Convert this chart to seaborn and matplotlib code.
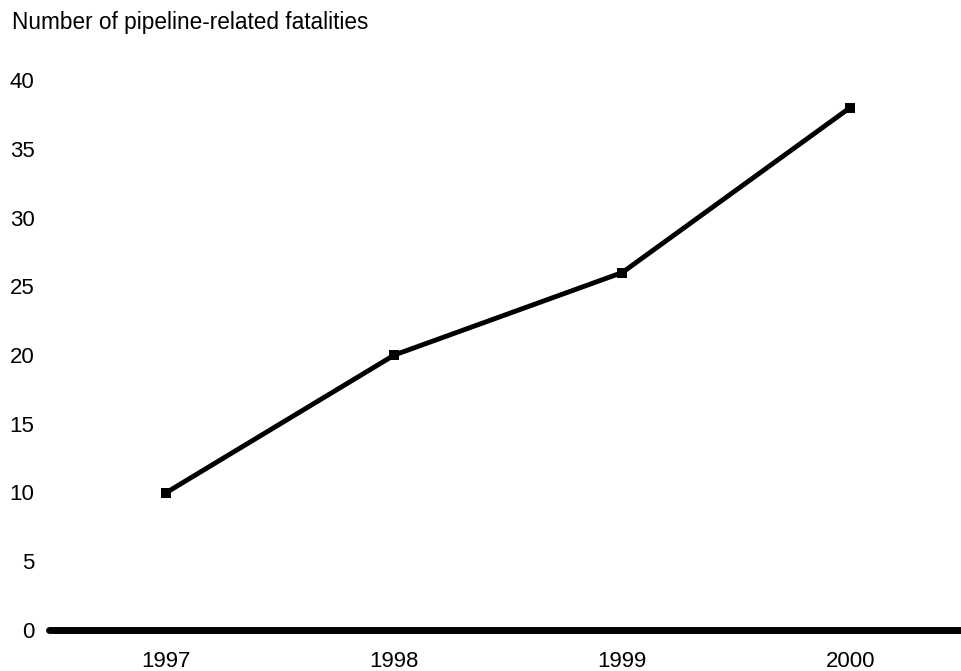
import matplotlib
matplotlib.use("Agg")
import matplotlib.pyplot as plt
import seaborn as sns
import pandas as pd

# данные
years = [1997, 1998, 1999, 2000]
fatalities = [10, 20, 26, 38]
y_ticks = [0, 5, 10, 15, 20, 25, 30, 35, 40]

df = pd.DataFrame({"year": years, "fatalities": fatalities})

sns.set_style("white")
plt.rcParams['font.family'] = ['Liberation Sans', 'DejaVu Sans']

fig = plt.figure(figsize=(9.62, 6.71), dpi=100)
ax = fig.add_axes([49 / 962, 1 - 630 / 671, 1 - 49 / 962, (630 - 80) / 671])

sns.lineplot(data=df, x="year", y="fatalities", ax=ax, color="black", lw=3.5,
             marker="s", markersize=6.5, markeredgewidth=0)

ax.set_xlim(1996.485, 2000.49)
ax.set_ylim(0, 40)
ax.set_xticks(years)
ax.set_xticklabels([str(y) for y in years])
ax.set_yticks(y_ticks)
ax.tick_params(axis="both", length=0, labelsize=16, colors="black")
ax.tick_params(axis="y", pad=10.5)
ax.tick_params(axis="x", pad=15)
ax.set_xlabel("")
ax.set_ylabel("")

for s in ["top", "right", "left"]:
    ax.spines[s].set_visible(False)
ax.spines["bottom"].set_linewidth(5)
ax.spines["bottom"].set_color("black")
ax.spines["bottom"].set_capstyle("round")

# подпись оси Y сверху
fig.text(12 / 962, 1 - 22 / 671, "Number of pipeline-related fatalities",
         fontsize=16.3, va="center", ha="left", color="black")

plt.savefig("out.png", dpi=100)
